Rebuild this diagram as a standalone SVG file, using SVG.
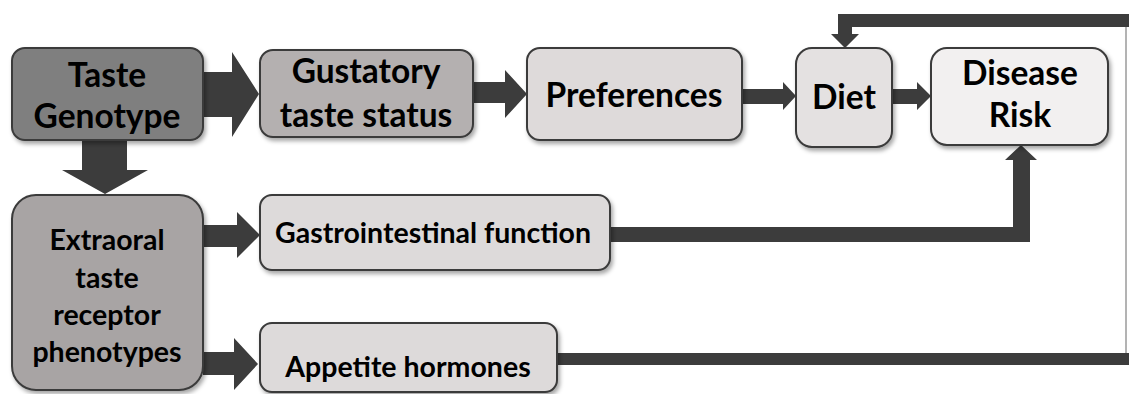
<svg xmlns="http://www.w3.org/2000/svg" width="1129" height="394" viewBox="0 0 1129 394">
<style>
.box{stroke:#3a3a3a;stroke-width:2;filter:url(#sh)}
.t{font-family:"Lato","Open Sans",sans-serif;font-weight:bold;fill:#000;text-anchor:middle}
.big{font-size:33.5px}
.sm{font-size:28.5px}
.arr{fill:#3c3c3c}
</style>
<defs>
<filter id="sh" x="-10%" y="-10%" width="130%" height="140%">
<feDropShadow dx="2" dy="3" stdDeviation="2" flood-color="#000" flood-opacity="0.35"/>
</filter>
</defs>
<rect width="1129" height="394" fill="#fff"/>
<g id="connectors">
<polygon class="arr" points="203,72 232,72 232,52 259,94 232,137 232,117 203,117"/>
<polygon class="arr" points="82,140 127,140 127,170 148,170 105,194 62,170 82,170"/>
<polygon class="arr" points="473,82 505,82 505,70 527,94 505,118 505,103 473,103"/>
<polygon class="arr" points="742,89 783,89 783,82 796,96 783,110 783,104 742,104"/>
<polygon class="arr" points="892,89 917,89 917,82 931,96 917,110 917,104 892,104"/>
<polygon class="arr" points="1129,14 838,14 838,34 831,34 845,48 859,34 852,34 852,27 1129,27"/>
<polygon class="arr" points="610,227 1013,227 1013,160 1005,160 1021,145 1037,160 1030,160 1030,242 610,242"/>
<rect class="arr" x="557" y="353" width="572" height="12"/>
<line x1="1126" y1="27" x2="1126" y2="353" stroke="#9a9a9a" stroke-width="1.5"/>
<polygon class="arr" points="203,225 237,225 237,212 260,235 237,258 237,247 203,247"/>
<polygon class="arr" points="203,352 234,352 234,338 258,364 234,390 234,375 203,375"/>
</g>
<g id="taste-genotype">
<rect class="box" x="12" y="48" width="191" height="92" rx="13" fill="#7f7f7f"/>
<text class="t big" x="107" y="87">Taste</text>
<text class="t big" x="107" y="128">Genotype</text>
</g>
<g id="gustatory">
<rect class="box" x="260" y="50" width="213" height="87" rx="13" fill="#b4b0b0"/>
<text class="t big" x="366" y="83">Gustatory</text>
<text class="t big" x="366" y="127">taste status</text>
</g>
<g id="preferences">
<rect class="box" x="527" y="48" width="215" height="92" rx="13" fill="#dedada"/>
<text class="t big" x="634" y="107">Preferences</text>
</g>
<g id="diet">
<rect class="box" x="796" y="48" width="96" height="99" rx="16" fill="#e4e1e1"/>
<text class="t big" x="844" y="109">Diet</text>
</g>
<g id="disease-risk">
<rect class="box" x="931" y="48" width="177" height="97" rx="16" fill="#f2f0f0"/>
<text class="t big" x="1020" y="85">Disease</text>
<text class="t big" x="1020" y="127">Risk</text>
</g>
<g id="extraoral">
<rect class="box" x="12" y="195" width="191" height="195" rx="24" fill="#a8a4a4"/>
<text class="t sm" x="107" y="250">Extraoral</text>
<text class="t sm" x="107" y="288">taste</text>
<text class="t sm" x="107" y="325">receptor</text>
<text class="t sm" x="107" y="362">phenotypes</text>
</g>
<g id="gastrointestinal">
<rect class="box" x="260" y="195" width="350" height="75" rx="12" fill="#dddada"/>
<text class="t sm" x="433" y="243">Gastrointestinal function</text>
</g>
<g id="appetite">
<rect class="box" x="260" y="323" width="297" height="69" rx="12" fill="#dddada"/>
<text class="t sm" x="408" y="377">Appetite hormones</text>
</g>
</svg>
